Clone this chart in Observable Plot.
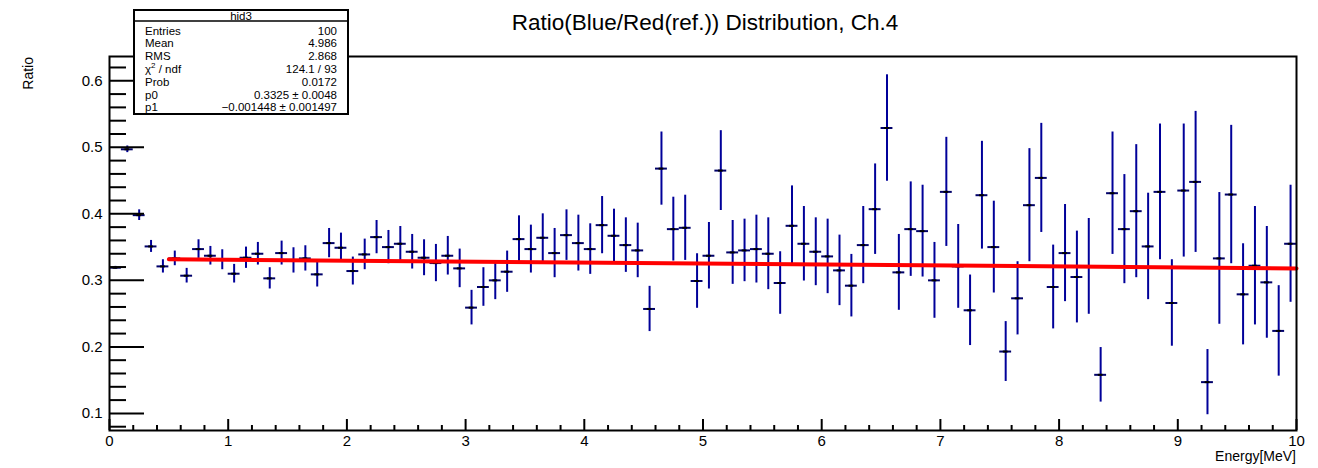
<!DOCTYPE html>
<html><head><meta charset="utf-8">
<script src="https://cdn.jsdelivr.net/npm/d3@7"></script>
<script src="https://cdn.jsdelivr.net/npm/@observablehq/plot@0.6"></script>
<style>
body{margin:0;background:#fff}
#chart{position:relative;width:1318px;height:468px}
#chart svg{position:absolute;left:0;top:0}
</style>
</head><body><div id="chart"></div>
<script>
// Histogram definition (TH1 "hid3": 100 bins, 0..10 MeV)
const nBins = 100, xMin = 0, xMax = 10;

// Bin contents (ratio)
const ratio = [
0.319,0.497,0.398,0.351,0.321,0.333,0.307,0.347,0.337,0.331,
0.310,0.334,0.340,0.303,0.341,0.330,0.333,0.309,0.356,0.349,
0.314,0.339,0.365,0.350,0.355,0.343,0.334,0.326,0.337,0.318,
0.259,0.290,0.300,0.313,0.362,0.347,0.364,0.341,0.368,0.356,
0.347,0.383,0.367,0.353,0.345,0.257,0.468,0.377,0.379,0.299,
0.337,0.465,0.342,0.345,0.347,0.340,0.296,0.382,0.355,0.343,
0.336,0.315,0.292,0.353,0.407,0.529,0.312,0.377,0.374,0.300,
0.433,0.321,0.255,0.428,0.350,0.193,0.273,0.413,0.454,0.290,
0.341,0.305,0.321,0.158,0.431,0.377,0.404,0.351,0.433,0.266,
0.435,0.448,0.147,0.333,0.429,0.279,0.322,0.297,0.224,0.355
];
// Bin errors
const ratioErr = [
0.002,0.005,0.008,0.009,0.010,0.011,0.011,0.014,0.014,0.015,
0.014,0.016,0.017,0.016,0.018,0.019,0.019,0.019,0.022,0.022,
0.021,0.023,0.025,0.025,0.026,0.026,0.027,0.028,0.029,0.029,
0.026,0.029,0.029,0.031,0.035,0.036,0.036,0.037,0.038,0.042,
0.038,0.043,0.040,0.041,0.041,0.034,0.055,0.048,0.049,0.041,
0.050,0.060,0.048,0.047,0.051,0.054,0.047,0.060,0.056,0.051,
0.056,0.053,0.047,0.058,0.068,0.080,0.057,0.071,0.069,0.057,
0.082,0.063,0.053,0.081,0.069,0.045,0.055,0.085,0.082,0.063,
0.073,0.069,0.072,0.041,0.092,0.082,0.100,0.080,0.102,0.065,
0.100,0.106,0.049,0.099,0.104,0.076,0.089,0.084,0.068,0.088
];

// Fit line (pol1) endpoints
const fitX = [0.5, 10];
const fitY = [0.3318, 0.3180];

// Axis ticks
const xMajor = [0,1,2,3,4,5,6,7,8,9,10];
const xMinor = [0.2,0.4,0.6,0.8,1.2,1.4,1.6,1.8,2.2,2.4,2.6,2.8,3.2,3.4,3.6,3.8,4.2,4.4,4.6,4.8,5.2,5.4,5.6,5.8,6.2,6.4,6.6,6.8,7.2,7.4,7.6,7.8,8.2,8.4,8.6,8.8,9.2,9.4,9.6,9.8];
const yMajor = [0.1,0.2,0.3,0.4,0.5,0.6];
const yMinor = [0.08,0.12,0.14,0.16,0.18,0.22,0.24,0.26,0.28,0.32,0.34,0.36,0.38,0.42,0.44,0.46,0.48,0.52,0.54,0.56,0.58,0.62];
const yDomain = [0.0743, 0.6365];

// Texts
const titleText = "Ratio(Blue/Red(ref.)) Distribution, Ch.4";
const xTitle = "Energy[MeV]";
const yTitle = "Ratio";
const statsName = "hid3";
const statsLabels = ["Entries","Mean","RMS","χ2 / ndf","Prob","p0","p1"];
const statsValues = ["100","4.986","2.868","124.1 / 93","0.0172","0.3325 ± 0.0048","\u22120.001448 ± 0.001497"];

const W = 1318, H = 468;
const mL = 109, mR = 22, mT = 56, mB = 38;
const pw = W - mL - mR, ph = H - mT - mB;
const font = "'Liberation Sans', Arial, Helvetica, sans-serif";
const blue = "#000099";

const binW = (xMax - xMin) / nBins;
const bins = ratio.map((v, i) => ({
  x: xMin + (i + 0.5) * binW, lo: xMin + i * binW, hi: xMin + (i + 1) * binW,
  y: v, e: ratioErr[i]
}));
const fit = fitX.map((x, i) => ({x, y: fitY[i]}));

const chart = Plot.plot({
  width: W, height: H,
  marginLeft: mL, marginRight: mR, marginTop: mT, marginBottom: mB,
  style: {fontFamily: font, fontSize: "14px", color: "black", background: "white"},
  x: {domain: [xMin, xMax]},
  y: {domain: yDomain},
  marks: [
    Plot.ruleX(bins, {x: "x", y1: d => d.y - d.e, y2: d => d.y + d.e, stroke: blue, strokeWidth: 2}),
    Plot.ruleY(bins, {y: "y", x1: "lo", x2: "hi", stroke: "#00006a", strokeWidth: 2}),
    Plot.ruleY(bins, {y: "y", x1: d => d.x - 0.02, x2: d => d.x + 0.02, stroke: "black", strokeWidth: 2}),
    Plot.line(fit, {x: "x", y: "y", stroke: "#ff0000", strokeWidth: 4}),
    Plot.frame({stroke: "black", strokeWidth: 2}),
    Plot.tickY(yMajor, {y: d => d, insetRight: pw - 35, stroke: "black", strokeWidth: 2}),
    Plot.tickY(yMinor, {y: d => d, insetRight: pw - 17, stroke: "black", strokeWidth: 2}),
    Plot.tickX(xMajor, {x: d => d, insetTop: ph - 11, stroke: "black", strokeWidth: 2}),
    Plot.tickX(xMinor, {x: d => d, insetTop: ph - 5, stroke: "black", strokeWidth: 2}),
    Plot.axisY(yMajor, {tickSize: 0, tickPadding: 7, label: null, fontSize: 15, tickFormat: d => d3.format(".1f")(d)}),
    Plot.axisX(xMajor, {tickSize: 0, tickPadding: 5, label: null, fontSize: 15, tickFormat: d => String(d)})
  ]
});
document.getElementById("chart").appendChild(chart);

// Annotations (title, axis titles, stats box)
const svg = d3.select(chart);
svg.append("text").attr("x", 705).attr("y", 30).attr("text-anchor", "middle")
  .attr("font-family", font).attr("font-size", 22.5).attr("fill", "black").text(titleText);
svg.append("text").attr("x", 1296).attr("y", 461).attr("text-anchor", "end")
  .attr("font-family", font).attr("font-size", 14).attr("fill", "black").text(xTitle);
svg.append("text").attr("transform", "translate(33,57) rotate(-90)").attr("text-anchor", "end")
  .attr("font-family", font).attr("font-size", 14).attr("fill", "black").text(yTitle);

const bx = 134, by = 10, bw = 214, bh = 104;
const g = svg.append("g").attr("font-family", font).attr("font-size", 11.5).attr("fill", "black");
g.append("rect").attr("x", bx).attr("y", by).attr("width", bw).attr("height", bh)
  .attr("fill", "white").attr("stroke", "black").attr("stroke-width", 2);
g.append("line").attr("x1", bx).attr("x2", bx + bw).attr("y1", 21).attr("y2", 21)
  .attr("stroke", "black").attr("stroke-width", 1.5);
g.append("text").attr("x", bx + bw / 2).attr("y", 19.5).attr("text-anchor", "middle").text(statsName);
statsLabels.forEach((lab, k) => {
  const y = 34.5 + k * 12.8;
  const t = g.append("text").attr("x", 145).attr("y", y).attr("text-anchor", "start");
  if (lab.startsWith("χ2")) {
    t.append("tspan").text("χ");
    t.append("tspan").attr("font-size", 8).attr("dy", -5).text("2");
    t.append("tspan").attr("dy", 5).text(" / ndf");
  } else t.text(lab);
  g.append("text").attr("x", 337).attr("y", y).attr("text-anchor", "end").text(statsValues[k]);
});
</script>
</body></html>
